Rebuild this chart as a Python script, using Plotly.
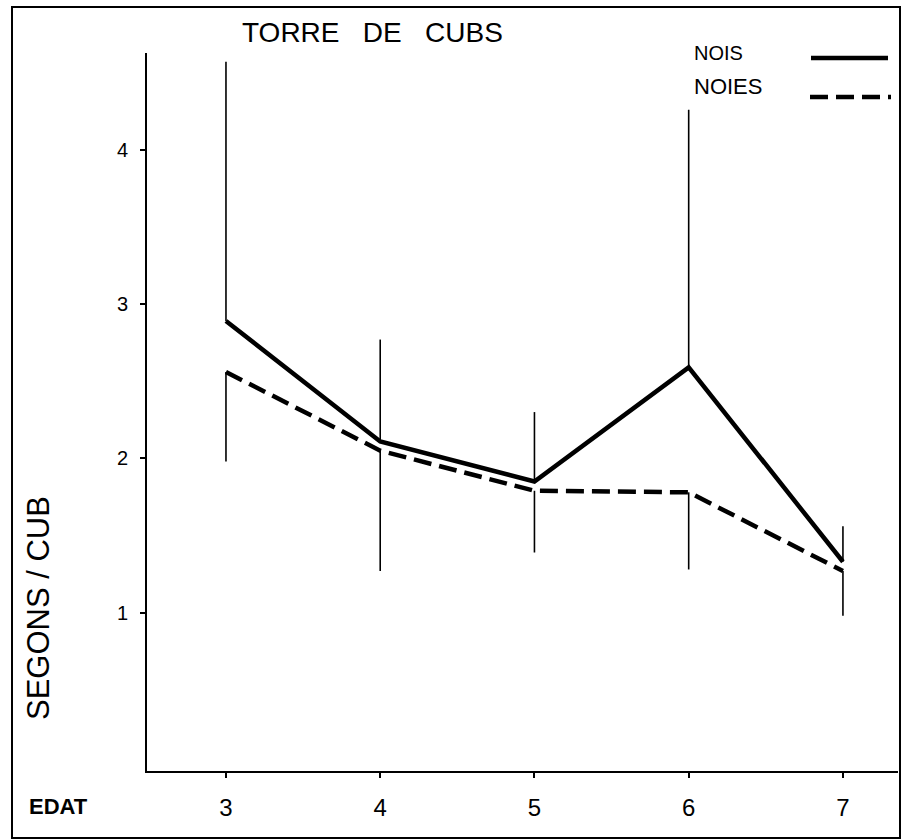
import plotly.graph_objects as go

# Data
edat = [3, 4, 5, 6, 7]
nois = [2.89, 2.11, 1.85, 2.59, 1.33]
noies = [2.56, 2.05, 1.79, 1.78, 1.27]
bar_top = [4.57, 2.77, 2.30, 4.26, 1.56]      # upper end of vertical bars (from NOIS)
bar_bottom = [1.98, 1.27, 1.39, 1.28, 0.98]   # lower end of vertical bars (from NOIES)
y_ticks = [1, 2, 3, 4]

up = [t - v for t, v in zip(bar_top, nois)]
down = [v - b for v, b in zip(noies, bar_bottom)]

FONT = "Liberation Sans"

fig = go.Figure()
fig.add_trace(go.Scatter(
    x=edat, y=nois, mode="lines", name="NOIS",
    line=dict(color="black", width=4.5),
    error_y=dict(type="data", symmetric=False, array=up,
                 arrayminus=[0] * len(up), width=0, thickness=1.6, color="black"),
))
fig.add_trace(go.Scatter(
    x=edat, y=noies, mode="lines", name="NOIES",
    line=dict(color="black", width=4.5, dash="18px,8px"),
    error_y=dict(type="data", symmetric=False, array=[0] * len(down),
                 arrayminus=down, width=0, thickness=1.6, color="black"),
))

# plot area geometry (pixels) for paper-coordinate decorations
L, R, T, B = 147, 9, 53, 69
W, H = 907, 840
pw, ph = W - L - R, H - T - B

def px(x):
    return (x - L) / pw

def py(y):
    return (H - B - y) / ph

fig.update_layout(
    width=W, height=H,
    margin=dict(l=L, r=R, t=T, b=B),
    paper_bgcolor="white", plot_bgcolor="white",
    showlegend=False,
    font=dict(family=FONT, color="black"),
    xaxis=dict(
        range=[2.488, 7.357], tickvals=edat, ticktext=[str(v) for v in edat],
        showgrid=False, zeroline=False, showline=True, linecolor="black", linewidth=2,
        ticks="outside", ticklen=5, tickcolor="black", tickwidth=1.5,
        tickfont=dict(size=24, family=FONT), ticklabelstandoff=9,
    ),
    yaxis=dict(
        range=[-0.026, 4.627], tickvals=y_ticks, ticktext=[str(v) for v in y_ticks],
        showgrid=False, zeroline=False, showline=True, linecolor="black", linewidth=2,
        ticks="outside", ticklen=5, tickcolor="black", tickwidth=1.5,
        tickfont=dict(size=20, family=FONT), ticklabelstandoff=8,
    ),
)

# outer frame
fig.add_shape(type="rect", xref="paper", yref="paper",
              x0=px(12), x1=px(900), y0=py(838), y1=py(7),
              line=dict(color="black", width=2), layer="above")

# title
fig.add_annotation(text="TORRE   DE   CUBS", xref="paper", yref="paper",
                   x=px(372), y=py(33), showarrow=False,
                   font=dict(size=28, family=FONT), xanchor="center", yanchor="middle")

# legend (text left, line sample right)
fig.add_annotation(text="NOIS", xref="paper", yref="paper",
                   x=px(692), y=py(53), showarrow=False,
                   font=dict(size=20, family=FONT), xanchor="left", yanchor="middle")
fig.add_annotation(text="NOIES", xref="paper", yref="paper",
                   x=px(692), y=py(87), showarrow=False,
                   font=dict(size=22, family=FONT), xanchor="left", yanchor="middle")
fig.add_shape(type="line", xref="paper", yref="paper",
              x0=px(811), x1=px(888), y0=py(58), y1=py(58),
              line=dict(color="black", width=4.5))
fig.add_shape(type="line", xref="paper", yref="paper",
              x0=px(810), x1=px(891), y0=py(97), y1=py(97),
              line=dict(color="black", width=4.5, dash="18px,8px"))

# axis titles
fig.add_annotation(text="SEGONS / CUB", xref="paper", yref="paper",
                   x=px(38), y=py(608), showarrow=False, textangle=-90,
                   font=dict(size=31, family=FONT), xanchor="center", yanchor="middle")
fig.add_annotation(text="<b>EDAT</b>", xref="paper", yref="paper",
                   x=px(58), y=py(807), showarrow=False,
                   font=dict(size=22, family=FONT), xanchor="center", yanchor="middle")

fig.write_html("out.html")
